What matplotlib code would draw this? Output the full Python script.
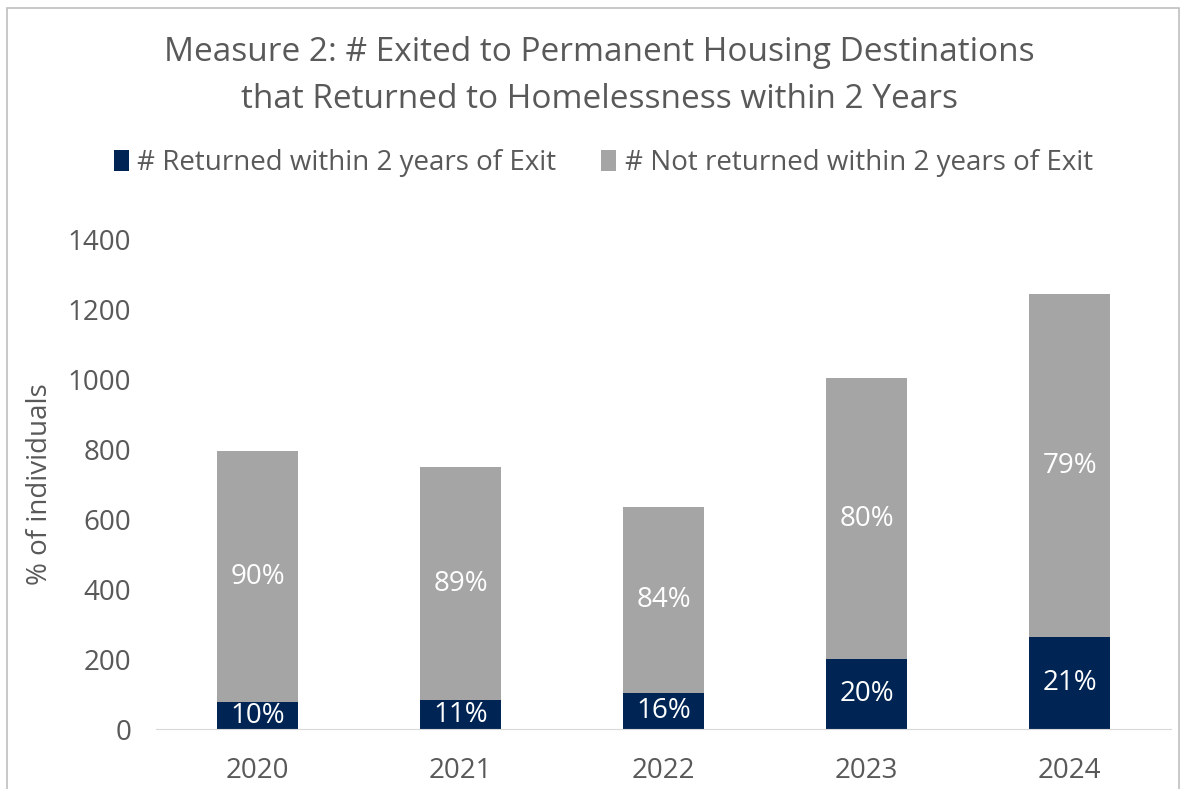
import matplotlib
matplotlib.use("Agg")
import matplotlib.pyplot as plt
from matplotlib.patches import Rectangle

years = ["2020", "2021", "2022", "2023", "2024"]
returned = [77, 83, 103, 200, 262]
not_returned = [719, 667, 533, 805, 983]
returned_pct = ["10%", "11%", "16%", "20%", "21%"]
not_returned_pct = ["90%", "89%", "84%", "80%", "79%"]

navy = "#002554"
grey = "#A5A5A5"
text_col = "#595959"

plt.rcParams["font.family"] = ["Open Sans", "DejaVu Sans"]

fig = plt.figure(figsize=(11.83, 7.89), dpi=100)
ax = fig.add_axes([0.132, 0.076, 0.858, 0.62])

x = range(len(years))
b1 = ax.bar(x, returned, width=0.4, color=navy, label="# Returned within 2 years of Exit")
b2 = ax.bar(x, not_returned, width=0.4, bottom=returned, color=grey,
            label="# Not returned within 2 years of Exit")

for i in x:
    ax.text(i, returned[i] / 2, returned_pct[i], ha="center", va="center",
            color="white", fontsize=20)
    ax.text(i, returned[i] + not_returned[i] / 2, not_returned_pct[i], ha="center",
            va="center", color="white", fontsize=20)

ax.set_ylim(0, 1400)
ax.set_yticks(range(0, 1401, 200))
ax.set_xlim(-0.5, 4.5)
ax.set_xticks(list(x))
ax.set_xticklabels(years)
ax.tick_params(axis="both", length=0, labelsize=20, colors=text_col)
ax.tick_params(axis="y", pad=18)
ax.tick_params(axis="x", pad=20)
ax.set_ylabel("% of individuals", fontsize=20, color=text_col, labelpad=10)
for side in ["top", "right", "left"]:
    ax.spines[side].set_visible(False)
ax.spines["bottom"].set_color("#D9D9D9")

fig.text(0.507, 0.904, "Measure 2: # Exited to Permanent Housing Destinations\n"
         "that Returned to Homelessness within 2 Years",
         ha="center", va="center", fontsize=24, color=text_col, linespacing=1.55)

fig.legend(handles=[b1, b2], loc="center", bbox_to_anchor=(0.51, 0.793), ncol=2,
           frameon=False, fontsize=20, labelcolor=text_col, handlelength=0.55,
           handleheight=0.8, handletextpad=0.3, columnspacing=1.6)

fig.patches.append(Rectangle((0.006, -0.01), 0.991, 1.0, transform=fig.transFigure,
                             fill=False, edgecolor="#BFBFBF", linewidth=1.2))

fig.savefig("out.png", dpi=100)
